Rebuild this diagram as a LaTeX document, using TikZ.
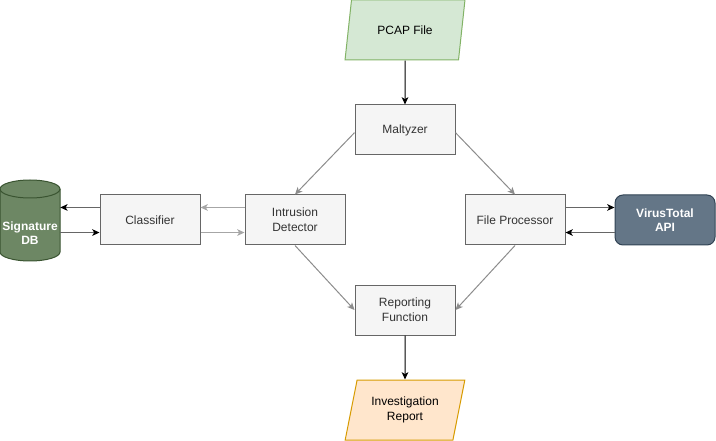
\documentclass[tikz,border=0pt]{standalone}
\usepackage{fontspec}
\setmainfont{Liberation Sans}
\usetikzlibrary{arrows.meta,shapes.geometric}
\definecolor{boxfill}{HTML}{F5F5F5}
\definecolor{boxline}{HTML}{666666}
\definecolor{boxtext}{HTML}{333333}
\definecolor{pcapfill}{HTML}{D5E8D4}
\definecolor{pcapline}{HTML}{82B366}
\definecolor{repfill}{HTML}{FFE6CC}
\definecolor{repline}{HTML}{D79B00}
\definecolor{dbfill}{HTML}{6D8764}
\definecolor{dbline}{HTML}{3A5431}
\definecolor{vtfill}{HTML}{647687}
\definecolor{vtline}{HTML}{314354}
\tikzset{
      procbox/.style={
        draw=boxline,
        line width=0.75pt,
        fill=boxfill,
        text=boxtext,
        minimum width=75pt,
        minimum height=37.5pt,
        align=center,
        inner sep=2pt
      },
      databox/.style={
        trapezium,
        trapezium left angle=73,
        trapezium right angle=107,
        trapezium stretches=true,
        line width=0.75pt,
        minimum width=90pt,
        minimum height=45pt,
        align=center,
        inner sep=1pt
      },
      apibox/.style={
        rounded corners=6pt,
        draw=vtline,
        line width=0.75pt,
        fill=vtfill,
        text=white,
        font=\fontsize{9}{11}\selectfont\bfseries,
        minimum width=75pt,
        minimum height=37.5pt,
        align=center
      },
      flow/.style={-{Stealth[length=5.5pt,width=5pt,inset=1.5pt]}, line width=0.75pt},
      grayflow/.style={flow, draw=black!45},
      lightflow/.style={flow, draw=black!35},
      darkflow/.style={draw=boxline, line width=0.75pt, -{Stealth[length=5.5pt,width=5pt,inset=1.5pt,color=black]}}
    }

\begin{document}
\begin{tikzpicture}[x=0.75pt,y=-0.75pt,font=\fontsize{9}{11}\selectfont]
    \useasboundingbox (0,0) rectangle (716,441);
    \node[databox, draw=pcapline, fill=pcapfill] (pcap) at (405,30) {PCAP File};
    \node[procbox] (maltyzer) at (405,130) {Maltyzer};
    \node[procbox] (intrusion) at (295,220) {Intrusion\\Detector};
    \node[procbox] (classifier) at (150,220) {Classifier};
    \node[procbox] (fileproc) at (515,220) {File Processor};
    \node[apibox] (virustotal) at (665,220) {VirusTotal\\API};
    \node[procbox] (reporting) at (405,310) {Reporting\\Function};
    \node[databox, draw=repline, fill=repfill] (report) at (405,410) {Investigation\\Report};
    % signature database cylinder
    \filldraw[fill=dbfill, draw=dbline, line width=0.75pt] (0,189) -- (0,252)
      arc[start angle=180, end angle=360, x radius=22.5pt, y radius=6.75pt] -- (60,189)
      arc[start angle=0, end angle=180, x radius=22.5pt, y radius=6.75pt] -- cycle;
    \draw[dbline, line width=0.75pt] (0,189) arc[start angle=180, end angle=360, x radius=22.5pt, y radius=6.75pt];
    \node[minimum width=45pt, minimum height=60pt, inner sep=0pt] (sigdb) at (30,220) {};
    \node[text=white, font=\fontsize{9}{11}\selectfont\bfseries, align=center] (sigdbtext) at (30,233) {Signature\\DB};
    \draw[flow] (pcap.south) -- (maltyzer.north);
    \draw[grayflow] ([yshift=-2pt]maltyzer.west) -- (intrusion.north);
    \draw[grayflow] ([yshift=-2pt]maltyzer.east) -- (fileproc.north);
    \draw[grayflow] (intrusion.south) -- (reporting.west);
    \draw[grayflow] (fileproc.south) -- (reporting.east);
    \draw[flow] (reporting.south) -- (report.north);
    \draw[lightflow] ([yshift=9.4pt]intrusion.west) -- ([yshift=9.4pt]classifier.east);
    \draw[lightflow] ([yshift=-9.4pt]classifier.east) -- ([yshift=-9.4pt]intrusion.west);
    \draw[darkflow] ([yshift=9.4pt]classifier.west) -- ([yshift=9.4pt]sigdb.east);
    \draw[darkflow] ([yshift=-9.4pt]sigdb.east) -- ([yshift=-9.4pt]classifier.west);
    \draw[darkflow] ([yshift=9.4pt]fileproc.east) -- ([yshift=9.4pt]virustotal.west);
    \draw[darkflow] ([yshift=-9.4pt]virustotal.west) -- ([yshift=-9.4pt]fileproc.east);
\end{tikzpicture}
\end{document}
